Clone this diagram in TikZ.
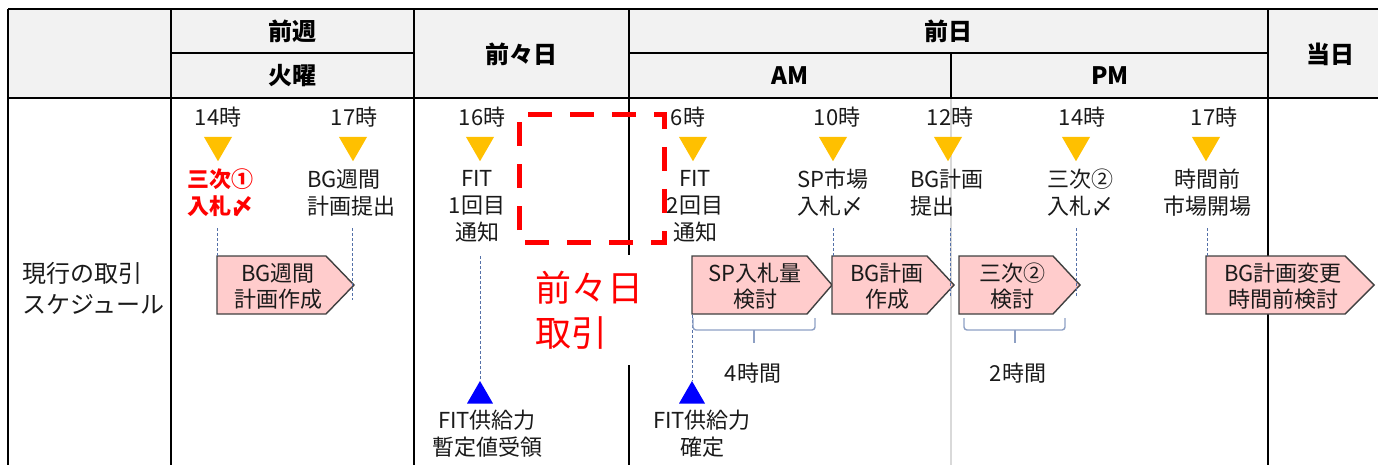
\documentclass[tikz,border=0pt]{standalone}
\usepackage{fontspec}
\setmainfont{Noto Sans CJK JP}
\usetikzlibrary{shapes.geometric}
\definecolor{hdr}{HTML}{F2F2F2}
\definecolor{txt}{HTML}{1A1A1A}
\definecolor{tri}{HTML}{FFC000}
\definecolor{btri}{HTML}{0000FF}
\definecolor{pinkf}{HTML}{FFCCCC}
\definecolor{boxline}{HTML}{404040}
\definecolor{dashc}{HTML}{5470A8}
\definecolor{bracec}{HTML}{8EA0C4}
\definecolor{amline}{HTML}{D9D9D9}
\definecolor{redc}{HTML}{FF0000}
\newcommand{\mkpent}[6]{%
  \draw[pentstyle] (#2,256) -- (#3,256) -- (#4,285) -- (#3,314) -- (#2,314) -- cycle;
  \node[boxtxt] (#1) at (#5,286) {#6};
}
\begin{document}
\begin{tikzpicture}[x=1pt,y=-1pt,
  grid/.style={line width=1.6pt, black},
  hdrtxt/.style={font=\fontsize{24}{28}\selectfont\bfseries, text=black, inner sep=0pt},
  lbl/.style={font=\fontsize{22}{27}\selectfont, text=txt, align=center, inner sep=0pt},
  lbll/.style={font=\fontsize{22}{27}\selectfont, text=txt, align=left, inner sep=0pt, anchor=west},
  boxtxt/.style={font=\fontsize{22}{26}\selectfont, text=txt, align=center, inner sep=0pt},
  tdown/.style={regular polygon, regular polygon sides=3, regular polygon rotate=180, fill=tri, minimum size=32.5pt, inner sep=0pt},
  tup/.style={regular polygon, regular polygon sides=3, fill=btri, minimum size=30pt, inner sep=0pt},
  pentstyle/.style={draw=boxline, fill=pinkf, line width=1.4pt, line join=miter},
  conn/.style={draw=dashc, line width=0.9pt, dash pattern=on 3pt off 2pt},
  brc/.style={draw=bracec, line width=1.4pt, rounded corners=3pt},
  reddash/.style={draw=redc, line width=5pt, dash pattern=on 24pt off 18pt, dash phase=33pt}
]
\useasboundingbox (0,0) rectangle (1378,465);
% header background
\fill[hdr] (8,9) rectangle (1378,98);
% light AM/PM line in body
\draw[amline, line width=1.6pt] (951,98) -- (951,465);
% grid
\draw[grid] (8,9) -- (1378,9);
\draw[grid] (8,98) -- (1378,98);
\draw[grid] (8,9) -- (8,465);
\draw[grid] (171,9) -- (171,465);
\draw[grid] (414,9) -- (414,465);
\draw[grid] (629,9) -- (629,255);
\draw[grid] (629,365) -- (629,465);
\draw[grid] (1268,9) -- (1268,465);
\draw[grid] (171,53) -- (414,53);
\draw[grid] (629,53) -- (1268,53);
\draw[grid] (951,53) -- (951,98);
% header texts
\node[hdrtxt] (h1) at (292,31) {前週};
\node[hdrtxt] (h2) at (292,76) {火曜};
\node[hdrtxt] (h3) at (521,54) {前々日};
\node[hdrtxt] (h4) at (948,31) {前日};
\node[hdrtxt] (h5) at (790,76) {AM};
\node[hdrtxt] (h6) at (1110,76) {PM};
\node[hdrtxt] (h7) at (1330,54) {当日};
% row label
\node[font=\fontsize{24}{31}\selectfont, text=txt, align=left, inner sep=0pt, anchor=west] (row) at (22,288) {現行の取引\\スケジュール};
% time labels
\node[lbl] (t1) at (218,117) {14時};
\node[lbl] (t2) at (354,117) {17時};
\node[lbl] (t3) at (482,117) {16時};
\node[lbl] (t4) at (688,117) {6時};
\node[lbl] (t5) at (837,117) {10時};
\node[lbl] (t6) at (950,117) {12時};
\node[lbl] (t7) at (1082,117) {14時};
\node[lbl] (t8) at (1214,117) {17時};
% yellow triangles
\node[tdown] (y1) at (218,145) {};
\node[tdown] (y2) at (353,145) {};
\node[tdown] (y3) at (480,145) {};
\node[tdown] (y4) at (693,145) {};
\node[tdown] (y5) at (833,145) {};
\node[tdown] (y6) at (948,145) {};
\node[tdown] (y7) at (1076,145) {};
\node[tdown] (y8) at (1206,145) {};
% event labels
\node[lbl, text=redc, font=\fontsize{22}{27}\selectfont\bfseries] (e1) at (220,193) {三次①\\入札〆};
\node[lbll] (e2) at (307,193) {BG週間\\計画提出};
\node[lbl] (e3) at (477,206) {FIT\\1回目\\通知};
\node[lbl] (e4) at (695,206) {FIT\\2回目\\通知};
\node[lbll] (e5) at (797,193) {SP市場\\入札〆};
\node[lbll] (e6) at (910,193) {BG計画\\提出};
\node[lbll] (e7) at (1047,193) {三次②\\入札〆};
\node[lbl] (e8) at (1207,193) {時間前\\市場開場};
% pentagon boxes
\mkpent{p1}{217}{326}{354}{278}{BG週間\\計画作成}
\mkpent{p2}{692}{807}{832}{755}{SP入札量\\検討}
\mkpent{p3}{832}{927}{954}{887}{BG計画\\作成}
\mkpent{p4}{959}{1053}{1080}{1012}{三次②\\検討}
\mkpent{p5}{1206}{1345}{1374}{1283}{BG計画変更\\時間前検討}
% blue triangles
\node[tup] (u1) at (480,396) {};
\node[tup] (u2) at (692,396) {};
% bottom labels
\node[lbl] (b1) at (487,434) {FIT供給力\\暫定値受領};
\node[lbl] (b2) at (702,434) {FIT供給力\\確定};
% dashed connectors
\coordinate (d1s) at (217,228); \coordinate (d1e) at (217,256);
\coordinate (d2s) at (352,228); \coordinate (d2e) at (352,300);
\coordinate (d3s) at (480,256);
\coordinate (d4s) at (692,315);
\coordinate (d5s) at (833,228); \coordinate (d5e) at (833,256);
\coordinate (d6s) at (950,228); \coordinate (d6e) at (950,297);
\coordinate (d7s) at (1076,228); \coordinate (d7e) at (1076,297);
\coordinate (d8s) at (1207,228); \coordinate (d8e) at (1207,256);
\draw[conn] (d1s) -- (d1e);
\draw[conn] (d2s) -- (d2e);
\draw[conn] (d3s) -- (u1.north);
\draw[conn] (d4s) -- (u2.north);
\draw[conn] (d5s) -- (d5e);
\draw[conn] (d6s) -- (d6e);
\draw[conn] (d7s) -- (d7e);
\draw[conn] (d8s) -- (d8e);
% braces
\draw[brc] (693,318) -- (693,330) -- (815,330) -- (815,318);
\draw[brc] (754,330) -- (754,343);
\draw[brc] (964,318) -- (964,330) -- (1065,330) -- (1065,318);
\draw[brc] (1015,330) -- (1015,343);
\node[lbl] (k1) at (753,373) {4時間};
\node[lbl] (k2) at (1018,373) {2時間};
% red dashed frame and big label
\draw[reddash] (519,115) -- (664,115) -- (664,242) -- (519,242) -- cycle;
\node[font=\fontsize{36}{45}\selectfont, text=redc, align=left, inner sep=0pt, anchor=west] (big) at (535,310) {前々日\\取引};
\end{tikzpicture}
\end{document}
